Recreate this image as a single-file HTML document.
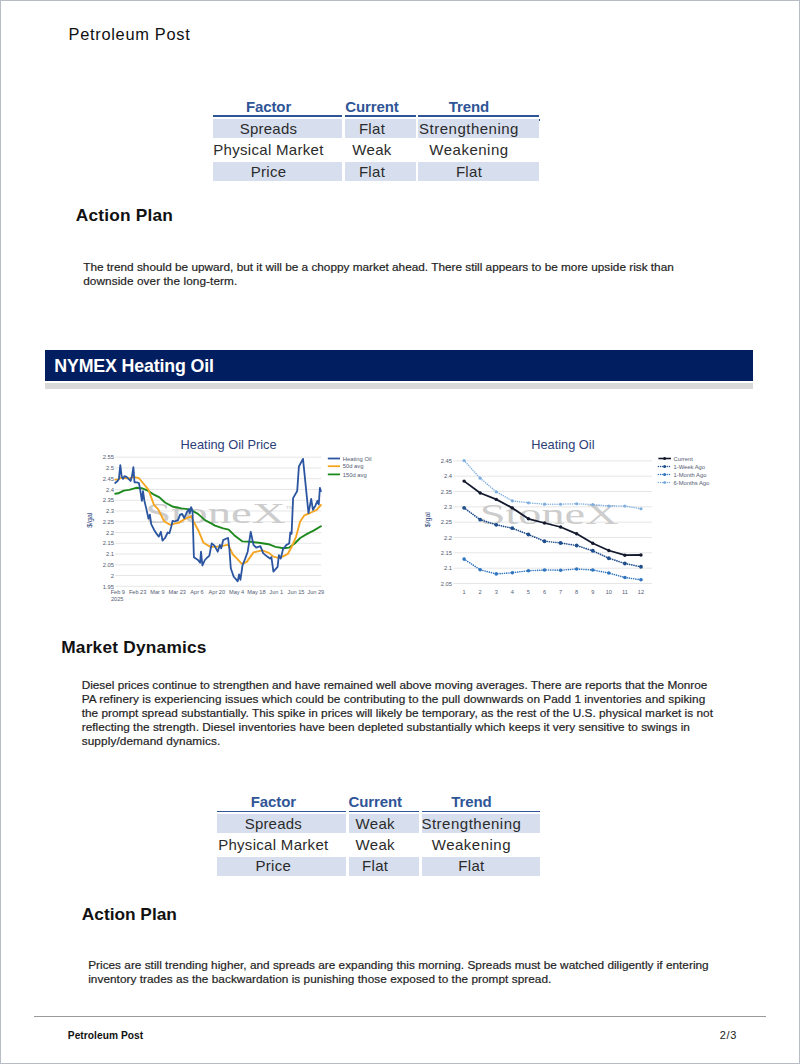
<!DOCTYPE html>
<html><head><meta charset="utf-8"><title>Petroleum Post</title>
<style>
html,body{margin:0;padding:0;background:#fff;}
body{width:800px;height:1064px;position:relative;overflow:hidden;font-family:"Liberation Sans", sans-serif;}
#page{position:absolute;left:0;top:0;width:798px;height:1062px;border:1px solid #b8bcc5;}
</style></head><body>
<div id="page"></div>
<svg style="position:absolute;left:0;top:0" width="800" height="1064" viewBox="0 0 800 1064" font-family="Liberation Sans, sans-serif"><line x1="115.25" y1="586.30" x2="321.25" y2="586.30" stroke="#e6e6e6" stroke-width="1"/><text x="114" y="588.50" text-anchor="end" font-size="5.8" fill="#525a72">1.95</text><line x1="115.25" y1="575.54" x2="321.25" y2="575.54" stroke="#e6e6e6" stroke-width="1"/><text x="114" y="577.74" text-anchor="end" font-size="5.8" fill="#525a72">2</text><line x1="115.25" y1="564.78" x2="321.25" y2="564.78" stroke="#e6e6e6" stroke-width="1"/><text x="114" y="566.98" text-anchor="end" font-size="5.8" fill="#525a72">2.05</text><line x1="115.25" y1="554.02" x2="321.25" y2="554.02" stroke="#e6e6e6" stroke-width="1"/><text x="114" y="556.22" text-anchor="end" font-size="5.8" fill="#525a72">2.1</text><line x1="115.25" y1="543.26" x2="321.25" y2="543.26" stroke="#e6e6e6" stroke-width="1"/><text x="114" y="545.46" text-anchor="end" font-size="5.8" fill="#525a72">2.15</text><line x1="115.25" y1="532.50" x2="321.25" y2="532.50" stroke="#e6e6e6" stroke-width="1"/><text x="114" y="534.70" text-anchor="end" font-size="5.8" fill="#525a72">2.2</text><line x1="115.25" y1="521.74" x2="321.25" y2="521.74" stroke="#e6e6e6" stroke-width="1"/><text x="114" y="523.94" text-anchor="end" font-size="5.8" fill="#525a72">2.25</text><line x1="115.25" y1="510.98" x2="321.25" y2="510.98" stroke="#e6e6e6" stroke-width="1"/><text x="114" y="513.18" text-anchor="end" font-size="5.8" fill="#525a72">2.3</text><line x1="115.25" y1="500.22" x2="321.25" y2="500.22" stroke="#e6e6e6" stroke-width="1"/><text x="114" y="502.42" text-anchor="end" font-size="5.8" fill="#525a72">2.35</text><line x1="115.25" y1="489.46" x2="321.25" y2="489.46" stroke="#e6e6e6" stroke-width="1"/><text x="114" y="491.66" text-anchor="end" font-size="5.8" fill="#525a72">2.4</text><line x1="115.25" y1="478.70" x2="321.25" y2="478.70" stroke="#e6e6e6" stroke-width="1"/><text x="114" y="480.90" text-anchor="end" font-size="5.8" fill="#525a72">2.45</text><line x1="115.25" y1="467.94" x2="321.25" y2="467.94" stroke="#e6e6e6" stroke-width="1"/><text x="114" y="470.14" text-anchor="end" font-size="5.8" fill="#525a72">2.5</text><line x1="115.25" y1="457.18" x2="321.25" y2="457.18" stroke="#e6e6e6" stroke-width="1"/><text x="114" y="459.38" text-anchor="end" font-size="5.8" fill="#525a72">2.55</text><text x="0" y="0" font-size="12.8" fill="#2b3e78" transform="translate(180.6,449.0)">Heating Oil Price</text><text x="0" y="0" font-size="7" fill="#2a3f7a" text-anchor="middle" transform="translate(91.8,520.2) rotate(-90)">$/gal</text><text x="117.80" y="593.7" text-anchor="middle" font-size="5.6" fill="#525a72">Feb 9</text><text x="137.60" y="593.7" text-anchor="middle" font-size="5.6" fill="#525a72">Feb 23</text><text x="157.40" y="593.7" text-anchor="middle" font-size="5.6" fill="#525a72">Mar 9</text><text x="177.20" y="593.7" text-anchor="middle" font-size="5.6" fill="#525a72">Mar 23</text><text x="197.00" y="593.7" text-anchor="middle" font-size="5.6" fill="#525a72">Apr 6</text><text x="216.80" y="593.7" text-anchor="middle" font-size="5.6" fill="#525a72">Apr 20</text><text x="236.60" y="593.7" text-anchor="middle" font-size="5.6" fill="#525a72">May 4</text><text x="256.40" y="593.7" text-anchor="middle" font-size="5.6" fill="#525a72">May 18</text><text x="276.20" y="593.7" text-anchor="middle" font-size="5.6" fill="#525a72">Jun 1</text><text x="296.00" y="593.7" text-anchor="middle" font-size="5.6" fill="#525a72">Jun 15</text><text x="315.80" y="593.7" text-anchor="middle" font-size="5.6" fill="#525a72">Jun 29</text><text x="111" y="600.8" font-size="5.6" fill="#525a72">2025</text><text transform="translate(145.3,523) scale(1.56,1)" font-family="Liberation Serif" font-size="30" fill="#c6c6c6" fill-opacity="0.9">StoneX</text><text x="286" y="509" font-family="Liberation Serif" font-size="5" fill="#c8c8c8">TM</text><polyline points="115.2,493.7 118.2,493.3 123.7,490.6 129.2,489.9 136.1,487.8 141.6,488.2 147.8,490.6 154.0,494.7 159.5,497.4 165.0,502.5 173.2,506.8 181.5,508.4 189.7,509.4 198.0,513.9 204.9,520.1 211.7,523.6 215.0,525.6 223.2,528.4 228.7,529.7 234.2,535.2 242.5,541.4 250.7,541.8 259.0,542.8 268.6,544.2 275.5,546.9 283.7,548.3 289.2,547.6 294.7,543.5 300.2,538.0 307.1,533.9 314.0,530.4 320.9,526.3" fill="none" stroke="#1e8a1e" stroke-width="1.9" stroke-linejoin="round" stroke-linecap="round"/><polyline points="115.2,479.6 118.2,479.6 121.0,477.5 126.5,478.2 130.6,478.2 133.4,476.8 138.9,478.2 143.0,483.0 148.5,489.9 154.0,505.0 158.1,509.1 164.3,521.5 170.5,524.9 174.6,523.6 178.7,522.9 184.2,519.4 191.1,516.0 193.9,522.2 198.0,529.7 203.5,542.8 210.4,546.9 215.0,546.9 221.9,546.2 228.1,544.6 232.9,554.5 237.7,559.3 241.8,563.8 246.6,562.1 253.5,552.4 259.0,551.1 262.4,550.4 269.3,553.1 273.4,556.6 278.2,557.9 282.4,556.6 287.9,553.8 292.0,546.2 296.1,536.6 300.2,521.5 304.4,515.3 309.9,513.0 316.7,509.8 320.9,505.0" fill="none" stroke="#f5a623" stroke-width="1.9" stroke-linejoin="round" stroke-linecap="round"/><polyline points="115.2,483.0 117.6,481.0 118.9,478.9 120.3,465.1 121.7,476.8 123.1,478.9 124.4,476.1 126.5,476.8 128.6,478.9 130.6,481.0 132.0,476.1 133.4,467.2 134.5,482.3 136.8,482.3 138.9,483.0 140.2,489.9 141.9,500.9 143.0,491.2 144.4,500.9 146.4,509.1 148.5,518.7 149.9,514.6 151.2,524.2 154.0,529.7 156.7,533.9 158.8,536.6 160.9,531.8 162.5,540.7 165.0,538.0 167.7,532.5 169.4,533.2 171.2,527.0 172.6,520.8 174.6,521.5 178.0,520.1 180.1,514.6 182.2,513.9 184.2,518.1 187.0,511.9 189.1,509.1 189.7,513.2 191.1,507.1 192.5,510.5 193.9,557.2 198.0,560.0 200.1,562.7 201.0,551.7 202.4,565.5 204.9,560.0 207.6,557.2 209.3,555.9 211.7,543.5 214.5,545.6 217.7,551.7 219.8,544.9 221.2,548.3 223.2,540.1 226.0,538.7 228.1,538.0 229.4,549.0 230.8,568.2 233.6,576.5 237.7,581.3 239.1,574.4 240.4,579.9 242.5,565.5 245.2,558.6 247.7,551.7 250.7,531.8 253.5,544.9 256.2,547.6 260.4,546.2 263.1,553.1 267.2,556.6 270.0,558.6 271.4,557.2 273.4,571.7 277.6,566.9 278.9,555.2 280.7,558.6 283.1,549.0 286.5,544.9 289.2,543.5 290.3,532.5 291.6,533.9 293.1,498.1 297.2,491.0 298.9,466.5 303.0,458.9 308.5,513.2 311.2,498.8 312.9,509.8 315.4,505.7 317.4,500.9 318.8,504.3 319.9,487.8 320.9,491.2" fill="none" stroke="#2b55a0" stroke-width="1.8" stroke-linejoin="round" stroke-linecap="round"/><line x1="327.8" y1="458.5" x2="340" y2="458.5" stroke="#2b55a0" stroke-width="1.8"/><text x="342.8" y="460.60" font-size="5.8" fill="#525a72">Heating Oil</text><line x1="327.8" y1="466.2" x2="340" y2="466.2" stroke="#f5a623" stroke-width="1.8"/><text x="342.8" y="468.30" font-size="5.8" fill="#525a72">50d avg</text><line x1="327.8" y1="474.4" x2="340" y2="474.4" stroke="#1e8a1e" stroke-width="1.8"/><text x="342.8" y="476.50" font-size="5.8" fill="#525a72">150d avg</text><line x1="453.6" y1="583.50" x2="652" y2="583.50" stroke="#e6e6e6" stroke-width="1"/><text x="452" y="585.70" text-anchor="end" font-size="5.8" fill="#525a72">2.05</text><line x1="453.6" y1="568.17" x2="652" y2="568.17" stroke="#e6e6e6" stroke-width="1"/><text x="452" y="570.37" text-anchor="end" font-size="5.8" fill="#525a72">2.1</text><line x1="453.6" y1="552.84" x2="652" y2="552.84" stroke="#e6e6e6" stroke-width="1"/><text x="452" y="555.04" text-anchor="end" font-size="5.8" fill="#525a72">2.15</text><line x1="453.6" y1="537.51" x2="652" y2="537.51" stroke="#e6e6e6" stroke-width="1"/><text x="452" y="539.71" text-anchor="end" font-size="5.8" fill="#525a72">2.2</text><line x1="453.6" y1="522.18" x2="652" y2="522.18" stroke="#e6e6e6" stroke-width="1"/><text x="452" y="524.38" text-anchor="end" font-size="5.8" fill="#525a72">2.25</text><line x1="453.6" y1="506.85" x2="652" y2="506.85" stroke="#e6e6e6" stroke-width="1"/><text x="452" y="509.05" text-anchor="end" font-size="5.8" fill="#525a72">2.3</text><line x1="453.6" y1="491.52" x2="652" y2="491.52" stroke="#e6e6e6" stroke-width="1"/><text x="452" y="493.72" text-anchor="end" font-size="5.8" fill="#525a72">2.35</text><line x1="453.6" y1="476.19" x2="652" y2="476.19" stroke="#e6e6e6" stroke-width="1"/><text x="452" y="478.39" text-anchor="end" font-size="5.8" fill="#525a72">2.4</text><line x1="453.6" y1="460.86" x2="652" y2="460.86" stroke="#e6e6e6" stroke-width="1"/><text x="452" y="463.06" text-anchor="end" font-size="5.8" fill="#525a72">2.45</text><text x="0" y="0" font-size="12.8" fill="#2b3e78" transform="translate(531.2,448.5)">Heating Oil</text><text x="0" y="0" font-size="7" fill="#2a3f7a" text-anchor="middle" transform="translate(430,519.7) rotate(-90)">$/gal</text><text x="464.10" y="594.3" text-anchor="middle" font-size="5.6" fill="#525a72">1</text><text x="480.18" y="594.3" text-anchor="middle" font-size="5.6" fill="#525a72">2</text><text x="496.26" y="594.3" text-anchor="middle" font-size="5.6" fill="#525a72">3</text><text x="512.34" y="594.3" text-anchor="middle" font-size="5.6" fill="#525a72">4</text><text x="528.42" y="594.3" text-anchor="middle" font-size="5.6" fill="#525a72">5</text><text x="544.50" y="594.3" text-anchor="middle" font-size="5.6" fill="#525a72">6</text><text x="560.58" y="594.3" text-anchor="middle" font-size="5.6" fill="#525a72">7</text><text x="576.66" y="594.3" text-anchor="middle" font-size="5.6" fill="#525a72">8</text><text x="592.74" y="594.3" text-anchor="middle" font-size="5.6" fill="#525a72">9</text><text x="608.82" y="594.3" text-anchor="middle" font-size="5.6" fill="#525a72">10</text><text x="624.90" y="594.3" text-anchor="middle" font-size="5.6" fill="#525a72">11</text><text x="640.98" y="594.3" text-anchor="middle" font-size="5.6" fill="#525a72">12</text><text transform="translate(479.8,523.6) scale(1.54,1)" font-family="Liberation Serif" font-size="30" fill="#c6c6c6" fill-opacity="0.9">StoneX</text><polyline points="464.1,460.5 480.2,478.2 496.3,491.8 512.3,500.8 528.4,502.8 544.5,504.2 560.6,504.2 576.7,503.8 592.7,504.5 608.8,506.0 624.9,506.0 641.0,508.8" fill="none" stroke="#7eaee0" stroke-width="1.5" stroke-linejoin="round" stroke-linecap="round" stroke-dasharray="0.01,2.2"/><circle cx="464.10" cy="460.50" r="1.6" fill="#7eaee0"/><circle cx="480.18" cy="478.20" r="1.6" fill="#7eaee0"/><circle cx="496.26" cy="491.80" r="1.6" fill="#7eaee0"/><circle cx="512.34" cy="500.80" r="1.6" fill="#7eaee0"/><circle cx="528.42" cy="502.80" r="1.6" fill="#7eaee0"/><circle cx="544.50" cy="504.20" r="1.6" fill="#7eaee0"/><circle cx="560.58" cy="504.25" r="1.6" fill="#7eaee0"/><circle cx="576.66" cy="503.75" r="1.6" fill="#7eaee0"/><circle cx="592.74" cy="504.50" r="1.6" fill="#7eaee0"/><circle cx="608.82" cy="506.00" r="1.6" fill="#7eaee0"/><circle cx="624.90" cy="506.00" r="1.6" fill="#7eaee0"/><circle cx="640.98" cy="508.75" r="1.6" fill="#7eaee0"/><polyline points="464.1,559.1 480.2,569.8 496.3,573.9 512.3,572.7 528.4,570.8 544.5,570.0 560.6,570.2 576.7,569.0 592.7,570.0 608.8,573.0 624.9,577.5 641.0,579.8" fill="none" stroke="#2e74c0" stroke-width="1.6" stroke-linejoin="round" stroke-linecap="round" stroke-dasharray="0.01,2.2"/><circle cx="464.10" cy="559.10" r="1.8" fill="#2e74c0"/><circle cx="480.18" cy="569.80" r="1.8" fill="#2e74c0"/><circle cx="496.26" cy="573.90" r="1.8" fill="#2e74c0"/><circle cx="512.34" cy="572.70" r="1.8" fill="#2e74c0"/><circle cx="528.42" cy="570.75" r="1.8" fill="#2e74c0"/><circle cx="544.50" cy="570.00" r="1.8" fill="#2e74c0"/><circle cx="560.58" cy="570.25" r="1.8" fill="#2e74c0"/><circle cx="576.66" cy="569.00" r="1.8" fill="#2e74c0"/><circle cx="592.74" cy="570.00" r="1.8" fill="#2e74c0"/><circle cx="608.82" cy="573.00" r="1.8" fill="#2e74c0"/><circle cx="624.90" cy="577.50" r="1.8" fill="#2e74c0"/><circle cx="640.98" cy="579.75" r="1.8" fill="#2e74c0"/><polyline points="464.1,507.9 480.2,519.7 496.3,524.8 512.3,528.2 528.4,534.5 544.5,541.2 560.6,543.0 576.7,545.5 592.7,550.8 608.8,558.2 624.9,563.5 641.0,566.8" fill="none" stroke="#1f4e8c" stroke-width="1.7" stroke-linejoin="round" stroke-linecap="round" stroke-dasharray="0.01,2.2"/><circle cx="464.10" cy="507.90" r="1.9" fill="#1f4e8c"/><circle cx="480.18" cy="519.70" r="1.9" fill="#1f4e8c"/><circle cx="496.26" cy="524.80" r="1.9" fill="#1f4e8c"/><circle cx="512.34" cy="528.20" r="1.9" fill="#1f4e8c"/><circle cx="528.42" cy="534.50" r="1.9" fill="#1f4e8c"/><circle cx="544.50" cy="541.25" r="1.9" fill="#1f4e8c"/><circle cx="560.58" cy="543.00" r="1.9" fill="#1f4e8c"/><circle cx="576.66" cy="545.50" r="1.9" fill="#1f4e8c"/><circle cx="592.74" cy="550.75" r="1.9" fill="#1f4e8c"/><circle cx="608.82" cy="558.25" r="1.9" fill="#1f4e8c"/><circle cx="624.90" cy="563.50" r="1.9" fill="#1f4e8c"/><circle cx="640.98" cy="566.75" r="1.9" fill="#1f4e8c"/><polyline points="464.1,481.1 480.2,493.0 496.3,499.4 512.3,507.9 528.4,518.8 544.5,523.0 560.6,527.0 576.7,533.8 592.7,543.2 608.8,550.5 624.9,555.2 641.0,555.0" fill="none" stroke="#141a2e" stroke-width="1.8" stroke-linejoin="round" stroke-linecap="round"/><circle cx="464.10" cy="481.10" r="1.7" fill="#141a2e"/><circle cx="480.18" cy="493.00" r="1.7" fill="#141a2e"/><circle cx="496.26" cy="499.40" r="1.7" fill="#141a2e"/><circle cx="512.34" cy="507.90" r="1.7" fill="#141a2e"/><circle cx="528.42" cy="518.75" r="1.7" fill="#141a2e"/><circle cx="544.50" cy="523.00" r="1.7" fill="#141a2e"/><circle cx="560.58" cy="527.00" r="1.7" fill="#141a2e"/><circle cx="576.66" cy="533.75" r="1.7" fill="#141a2e"/><circle cx="592.74" cy="543.25" r="1.7" fill="#141a2e"/><circle cx="608.82" cy="550.50" r="1.7" fill="#141a2e"/><circle cx="624.90" cy="555.25" r="1.7" fill="#141a2e"/><circle cx="640.98" cy="555.00" r="1.7" fill="#141a2e"/><line x1="658.4" y1="458.5" x2="671" y2="458.5" stroke="#141a2e" stroke-width="1.6"/><circle cx="664.6" cy="458.5" r="1.5" fill="#141a2e"/><text x="673.5" y="460.60" font-size="5.8" fill="#525a72">Current</text><line x1="658.4" y1="466.5" x2="671" y2="466.5" stroke="#1f4e8c" stroke-width="1.5" stroke-dasharray="0.01,2.2" stroke-linecap="round"/><circle cx="664.6" cy="466.5" r="1.5" fill="#1f4e8c"/><text x="673.5" y="468.60" font-size="5.8" fill="#525a72">1-Week Ago</text><line x1="658.4" y1="474.5" x2="671" y2="474.5" stroke="#2e74c0" stroke-width="1.5" stroke-dasharray="0.01,2.2" stroke-linecap="round"/><circle cx="664.6" cy="474.5" r="1.5" fill="#2e74c0"/><text x="673.5" y="476.60" font-size="5.8" fill="#525a72">1-Month Ago</text><line x1="658.4" y1="482.5" x2="671" y2="482.5" stroke="#7eaee0" stroke-width="1.5" stroke-dasharray="0.01,2.2" stroke-linecap="round"/><circle cx="664.6" cy="482.5" r="1.5" fill="#7eaee0"/><text x="673.5" y="484.60" font-size="5.8" fill="#525a72">6-Months Ago</text></svg>
<div style="position:absolute;left:68.60px;top:25.62px;font-size:16.4px;line-height:16.4px;font-weight:400;color:#111;white-space:nowrap;letter-spacing:0.7px;">Petroleum Post</div><div style="position:absolute;left:212.8px;top:115.2px;width:129.7px;height:1.8px;background:#2f5597;"></div><div style="position:absolute;left:212.8px;top:119px;width:129.7px;height:18.8px;background:#d7dfef;"></div><div style="position:absolute;left:212.8px;top:162.2px;width:129.7px;height:18.8px;background:#d7dfef;"></div><div style="position:absolute;left:345.2px;top:115.2px;width:70.80000000000001px;height:1.8px;background:#2f5597;"></div><div style="position:absolute;left:345.2px;top:119px;width:70.80000000000001px;height:18.8px;background:#d7dfef;"></div><div style="position:absolute;left:345.2px;top:162.2px;width:70.80000000000001px;height:18.8px;background:#d7dfef;"></div><div style="position:absolute;left:418.2px;top:115.2px;width:120.80000000000001px;height:1.8px;background:#2f5597;"></div><div style="position:absolute;left:418.2px;top:119px;width:120.80000000000001px;height:18.8px;background:#d7dfef;"></div><div style="position:absolute;left:418.2px;top:162.2px;width:120.80000000000001px;height:18.8px;background:#d7dfef;"></div><div style="position:absolute;left:-31.50px;width:600px;text-align:center;top:98.80px;font-size:15px;line-height:15px;font-weight:700;color:#2f5597;white-space:nowrap;letter-spacing:-0.1px;">Factor</div><div style="position:absolute;left:72.00px;width:600px;text-align:center;top:98.80px;font-size:15px;line-height:15px;font-weight:700;color:#2f5597;white-space:nowrap;letter-spacing:-0.1px;">Current</div><div style="position:absolute;left:169.00px;width:600px;text-align:center;top:98.80px;font-size:15px;line-height:15px;font-weight:700;color:#2f5597;white-space:nowrap;letter-spacing:-0.1px;">Trend</div><div style="position:absolute;left:-31.50px;width:600px;text-align:center;top:120.80px;font-size:15px;line-height:15px;font-weight:400;color:#2b2b2b;white-space:nowrap;letter-spacing:0.2px;">Spreads</div><div style="position:absolute;left:72.00px;width:600px;text-align:center;top:120.80px;font-size:15px;line-height:15px;font-weight:400;color:#2b2b2b;white-space:nowrap;letter-spacing:0.3px;">Flat</div><div style="position:absolute;left:169.00px;width:600px;text-align:center;top:120.80px;font-size:15px;line-height:15px;font-weight:400;color:#2b2b2b;white-space:nowrap;letter-spacing:0.5px;">Strengthening</div><div style="position:absolute;left:-31.50px;width:600px;text-align:center;top:142.30px;font-size:15px;line-height:15px;font-weight:400;color:#2b2b2b;white-space:nowrap;letter-spacing:0.3px;">Physical Market</div><div style="position:absolute;left:72.00px;width:600px;text-align:center;top:142.30px;font-size:15px;line-height:15px;font-weight:400;color:#2b2b2b;white-space:nowrap;letter-spacing:0.3px;">Weak</div><div style="position:absolute;left:169.00px;width:600px;text-align:center;top:142.30px;font-size:15px;line-height:15px;font-weight:400;color:#2b2b2b;white-space:nowrap;letter-spacing:0.5px;">Weakening</div><div style="position:absolute;left:-31.50px;width:600px;text-align:center;top:163.80px;font-size:15px;line-height:15px;font-weight:400;color:#2b2b2b;white-space:nowrap;letter-spacing:0.3px;">Price</div><div style="position:absolute;left:72.00px;width:600px;text-align:center;top:163.80px;font-size:15px;line-height:15px;font-weight:400;color:#2b2b2b;white-space:nowrap;letter-spacing:0.3px;">Flat</div><div style="position:absolute;left:169.00px;width:600px;text-align:center;top:163.80px;font-size:15px;line-height:15px;font-weight:400;color:#2b2b2b;white-space:nowrap;letter-spacing:0.3px;">Flat</div><div style="position:absolute;left:217.3px;top:810.6px;width:128.7px;height:1.8px;background:#2f5597;"></div><div style="position:absolute;left:217.3px;top:814px;width:128.7px;height:18.7px;background:#d7dfef;"></div><div style="position:absolute;left:217.3px;top:857px;width:128.7px;height:18.7px;background:#d7dfef;"></div><div style="position:absolute;left:348.7px;top:810.6px;width:70.69999999999999px;height:1.8px;background:#2f5597;"></div><div style="position:absolute;left:348.7px;top:814px;width:70.69999999999999px;height:18.7px;background:#d7dfef;"></div><div style="position:absolute;left:348.7px;top:857px;width:70.69999999999999px;height:18.7px;background:#d7dfef;"></div><div style="position:absolute;left:421.6px;top:810.6px;width:118.79999999999995px;height:1.8px;background:#2f5597;"></div><div style="position:absolute;left:421.6px;top:814px;width:118.79999999999995px;height:18.7px;background:#d7dfef;"></div><div style="position:absolute;left:421.6px;top:857px;width:118.79999999999995px;height:18.7px;background:#d7dfef;"></div><div style="position:absolute;left:-26.70px;width:600px;text-align:center;top:793.90px;font-size:15px;line-height:15px;font-weight:700;color:#2f5597;white-space:nowrap;letter-spacing:-0.1px;">Factor</div><div style="position:absolute;left:75.20px;width:600px;text-align:center;top:793.90px;font-size:15px;line-height:15px;font-weight:700;color:#2f5597;white-space:nowrap;letter-spacing:-0.1px;">Current</div><div style="position:absolute;left:171.40px;width:600px;text-align:center;top:793.90px;font-size:15px;line-height:15px;font-weight:700;color:#2f5597;white-space:nowrap;letter-spacing:-0.1px;">Trend</div><div style="position:absolute;left:-26.70px;width:600px;text-align:center;top:815.60px;font-size:15px;line-height:15px;font-weight:400;color:#2b2b2b;white-space:nowrap;letter-spacing:0.2px;">Spreads</div><div style="position:absolute;left:75.20px;width:600px;text-align:center;top:815.60px;font-size:15px;line-height:15px;font-weight:400;color:#2b2b2b;white-space:nowrap;letter-spacing:0.3px;">Weak</div><div style="position:absolute;left:171.40px;width:600px;text-align:center;top:815.60px;font-size:15px;line-height:15px;font-weight:400;color:#2b2b2b;white-space:nowrap;letter-spacing:0.5px;">Strengthening</div><div style="position:absolute;left:-26.70px;width:600px;text-align:center;top:837.00px;font-size:15px;line-height:15px;font-weight:400;color:#2b2b2b;white-space:nowrap;letter-spacing:0.3px;">Physical Market</div><div style="position:absolute;left:75.20px;width:600px;text-align:center;top:837.00px;font-size:15px;line-height:15px;font-weight:400;color:#2b2b2b;white-space:nowrap;letter-spacing:0.3px;">Weak</div><div style="position:absolute;left:171.40px;width:600px;text-align:center;top:837.00px;font-size:15px;line-height:15px;font-weight:400;color:#2b2b2b;white-space:nowrap;letter-spacing:0.5px;">Weakening</div><div style="position:absolute;left:-26.70px;width:600px;text-align:center;top:857.80px;font-size:15px;line-height:15px;font-weight:400;color:#2b2b2b;white-space:nowrap;letter-spacing:0.3px;">Price</div><div style="position:absolute;left:75.20px;width:600px;text-align:center;top:857.80px;font-size:15px;line-height:15px;font-weight:400;color:#2b2b2b;white-space:nowrap;letter-spacing:0.3px;">Flat</div><div style="position:absolute;left:171.40px;width:600px;text-align:center;top:857.80px;font-size:15px;line-height:15px;font-weight:400;color:#2b2b2b;white-space:nowrap;letter-spacing:0.3px;">Flat</div><div style="position:absolute;left:538.6px;top:119.4px;width:1.4px;height:1.4px;background:#2f5597;"></div><div style="position:absolute;left:75.80px;top:207.16px;font-size:17.3px;line-height:17.3px;font-weight:700;color:#111;white-space:nowrap;letter-spacing:0.2px;">Action Plan</div><div style="position:absolute;left:61.20px;top:639.46px;font-size:17.3px;line-height:17.3px;font-weight:700;color:#111;white-space:nowrap;letter-spacing:0.22px;">Market Dynamics</div><div style="position:absolute;left:81.80px;top:906.06px;font-size:17.3px;line-height:17.3px;font-weight:700;color:#111;white-space:nowrap;">Action Plan</div><div style="position:absolute;left:83.2px;top:259.86px;font-size:11.8px;line-height:14.1px;color:#1e1e1e;white-space:nowrap;-webkit-text-stroke:0.2px #1e1e1e;">The trend should be upward, but it will be a choppy market ahead. There still appears to be more upside risk than<br><span style="letter-spacing:0.07px">downside over the long-term.</span></div><div style="position:absolute;left:81.7px;top:677.66px;font-size:11.8px;line-height:14.1px;color:#1e1e1e;white-space:nowrap;-webkit-text-stroke:0.2px #1e1e1e;"><span style="letter-spacing:-0.015px">Diesel prices continue to strengthen and have remained well above moving averages. There are reports that the Monroe</span><br><span style="letter-spacing:0.04px">PA refinery is experiencing issues which could be contributing to the pull downwards on Padd 1 inventories and spiking</span><br><span style="letter-spacing:0.025px">the prompt spread substantially. This spike in prices will likely be temporary, as the rest of the U.S. physical market is not</span><br><span style="letter-spacing:0.025px">reflecting the strength. Diesel inventories have been depleted substantially which keeps it very sensitive to swings in</span><br><span style="letter-spacing:0.1px">supply/demand dynamics.</span></div><div style="position:absolute;left:88.2px;top:958.36px;font-size:11.8px;line-height:14.1px;color:#1e1e1e;white-space:nowrap;-webkit-text-stroke:0.2px #1e1e1e;"><span style="letter-spacing:0.012px">Prices are still trending higher, and spreads are expanding this morning. Spreads must be watched diligently if entering</span><br><span style="letter-spacing:0.04px">inventory trades as the backwardation is punishing those exposed to the prompt spread.</span></div><div style="position:absolute;left:44.5px;top:349.5px;width:708px;height:31.6px;background:#001e60;"></div><div style="position:absolute;left:44.5px;top:382.5px;width:708px;height:6.8px;background:#d9d9d9;"></div><div style="position:absolute;left:54.30px;top:357.53px;font-size:17.8px;line-height:17.8px;font-weight:700;color:#fff;white-space:nowrap;letter-spacing:-0.15px;">NYMEX Heating Oil</div><div style="position:absolute;left:34px;top:1016px;width:732px;height:1px;background:#9a9a9a;"></div><div style="position:absolute;left:67.80px;top:1030.87px;font-size:10.2px;line-height:10.2px;font-weight:700;color:#111;white-space:nowrap;letter-spacing:0.05px;">Petroleum Post</div><div style="position:absolute;left:719.80px;top:1029.99px;font-size:11px;line-height:11px;font-weight:400;color:#222;white-space:nowrap;letter-spacing:0.6px;">2/3</div>
</body></html>
